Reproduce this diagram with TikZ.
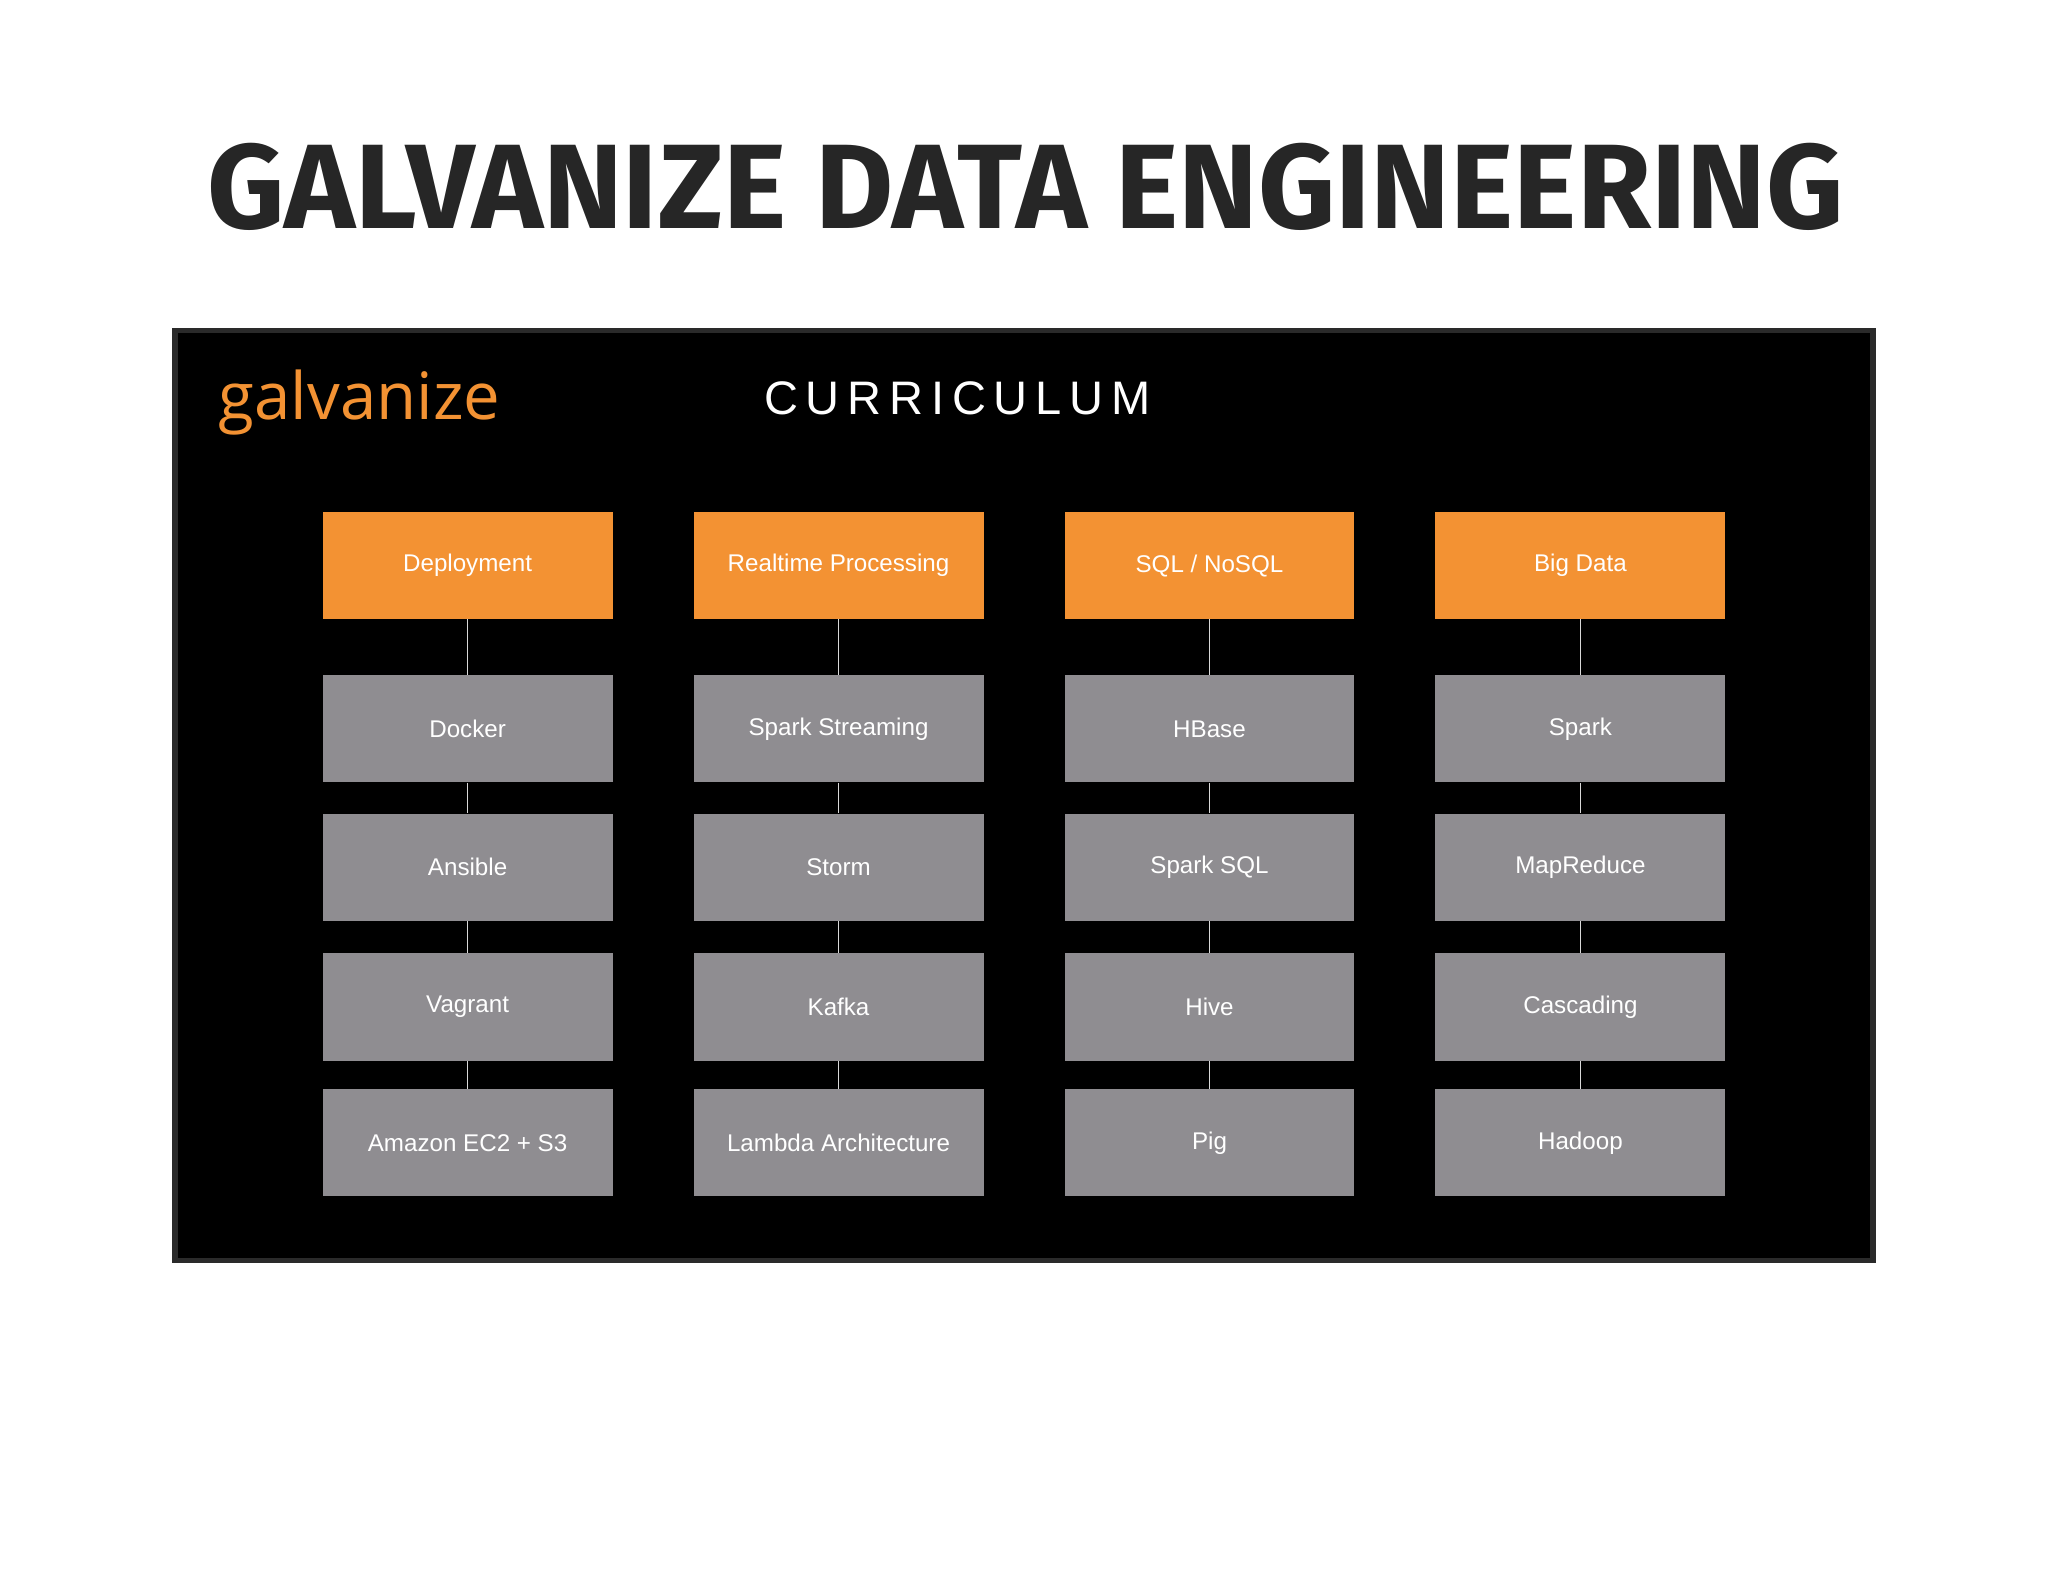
\documentclass[tikz,border=0pt]{standalone}
\usepackage{fontspec}
\setmainfont{Liberation Sans}
\newfontfamily\titlefont{Fira Sans}
\newfontfamily\logofont{Open Sans}
\definecolor{orng}{HTML}{F39233}
\definecolor{grayb}{HTML}{8F8D91}
\definecolor{panelb}{HTML}{2A2A2A}
\begin{document}
\begin{tikzpicture}[x=1pt,y=-1pt,
  box/.style={minimum width=222pt,minimum height=82pt,inner sep=0pt,text=white,font=\fontsize{18.5}{20}\selectfont},
  head/.style={box,fill=orng},
  item/.style={box,fill=grayb},
  link/.style={draw=white!85!black,line width=1.2pt}]
\useasboundingbox (0,0) rectangle (1568,1211);
\fill[white] (0,0) rectangle (1568,1211);
\node[font=\titlefont\bfseries\fontsize{92}{94}\selectfont,text=black!85] (title) at (785,143) {GALVANIZE DATA ENGINEERING};
\draw[fill=black,draw=panelb,line width=4pt] (134,253) rectangle (1434,965);
\node[font=\logofont\fontsize{50}{52}\selectfont,text=orng,anchor=west] (logo) at (164,308) {galvanize};
\node[font=\fontsize{36}{38}\selectfont,text=white] (cur) at (733,305) {C\,U\,R\,R\,I\,C\,U\,L\,U\,M};
\foreach \c/\x/\h/\a/\b/\cc/\d in {
 1/358/Deployment/Docker/Ansible/Vagrant/Amazon EC2 + S3,
 2/642/Realtime Processing/Spark Streaming/Storm/Kafka/Lambda Architecture,
 3/926/{SQL / NoSQL}/HBase/Spark SQL/Hive/Pig,
 4/1210/Big Data/Spark/MapReduce/Cascading/Hadoop}{
 \node[head] (h\c) at (\x,433) {\h};
 \node[item] (a\c) at (\x,558) {\a};
 \node[item] (b\c) at (\x,664) {\b};
 \node[item] (c\c) at (\x,771) {\cc};
 \node[item] (d\c) at (\x,875) {\d};
 \draw[link] (h\c) -- (a\c);
 \draw[link] (a\c) -- (b\c);
 \draw[link] (b\c) -- (c\c);
 \draw[link] (c\c) -- (d\c);
}
\end{tikzpicture}
\end{document}
